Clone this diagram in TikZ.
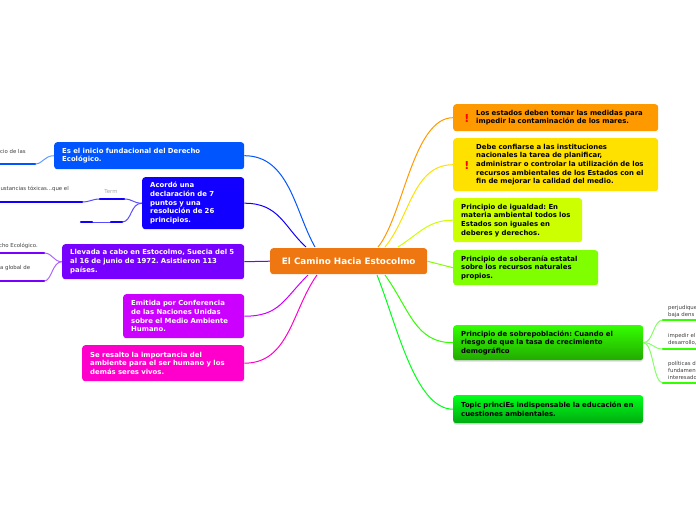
\documentclass[tikz,border=0pt]{standalone}
\usepackage{fontspec}
\setmainfont{DejaVu Sans}
\usetikzlibrary{backgrounds,shadows}
\definecolor{rootc}{HTML}{EE7711}
\definecolor{oranc}{HTML}{FF9900}
\definecolor{yelc}{HTML}{FFE100}
\definecolor{limec}{HTML}{CCFF00}
\definecolor{grnc}{HTML}{80FF00}
\definecolor{brightc}{HTML}{33FF00}
\definecolor{darkc}{HTML}{22AA00}
\definecolor{neonc}{HTML}{00FF19}
\definecolor{dneonc}{HTML}{00AA11}
\definecolor{bluec}{HTML}{0055FF}
\definecolor{navyc}{HTML}{1100FF}
\definecolor{violc}{HTML}{7700FF}
\definecolor{magc}{HTML}{CC00FF}
\definecolor{pinkc}{HTML}{FF00CC}
\frenchspacing
\begin{document}
\begin{tikzpicture}
[x=1pt,y=-1pt]
\tikzstyle{every node}=[font=\fontsize{6.9}{8.7}\selectfont\bfseries]
\tikzstyle{topic}=[anchor=north west,rounded corners=3pt,align=left,inner xsep=8pt,inner ysep=0pt]
\tikzstyle{lefttopic}=[topic,text=white]
\tikzstyle{righttopic}=[topic,text=black]
\tikzstyle{subtext}=[font=\fontsize{5.4}{6.8}\selectfont,text=black!75,align=left,inner sep=0pt]
\tikzstyle{link}=[line width=1pt]
\tikzstyle{subline}=[line width=2.4pt,line cap=round]
\useasboundingbox (0,0) rectangle (696,520);
\clip (0,0) rectangle (696,520);
\node[anchor=north west,fill=rootc,rounded corners=3pt,text=white,minimum width=157pt,minimum height=26pt,inner sep=0pt,font=\fontsize{8.8}{10}\selectfont\bfseries] (root) at (270,248) {El Camino Hacia Estocolmo};
\node[righttopic,fill=oranc,text width=189pt,minimum height=27pt] (mares) at (453,104) {\hspace*{15pt}Los estados deben tomar las medidas para\\\hspace*{15pt}impedir la contaminación de los mares.};
\node[righttopic,fill=yelc,text width=189pt,minimum height=53pt] (medio) at (453,138) {\hspace*{15pt}Debe confiarse a las instituciones\\\hspace*{15pt}nacionales la tarea de planificar,\\\hspace*{15pt}administrar o controlar la utilización de los\\\hspace*{15pt}recursos ambientales de los Estados con el\\\hspace*{15pt}fin de mejorar la calidad del medio.};
\node[righttopic,fill=limec,text width=113pt,minimum height=44pt] (igual) at (453,198) {Principio de igualdad: En\\materia ambiental todos los\\Estados son iguales en\\deberes y derechos.};
\node[righttopic,fill=grnc,text width=129pt,minimum height=35pt] (sober) at (453,250) {Principio de soberanía estatal\\sobre los recursos naturales\\propios.};
\node[righttopic,top color=brightc,bottom color=darkc,drop shadow={shadow xshift=0pt,shadow yshift=-1.5pt,opacity=.3},text width=174pt,minimum height=35pt] (sobre) at (453,325) {Principio de sobrepoblación: Cuando el\\riesgo de que la tasa de crecimiento\\demográfico};
\node[righttopic,top color=neonc,bottom color=dneonc,drop shadow={shadow xshift=0pt,shadow yshift=-1.5pt,opacity=.3},inner xsep=6pt,text width=178pt,minimum height=28pt] (educa) at (453,395) {\hspace*{2pt}Topic princiEs indispensable la educación en\\\hspace*{2pt}cuestiones ambientales.};
\node[lefttopic,fill=bluec,text width=174pt,minimum height=27pt] (inicio) at (54,142) {Es el inicio fundacional del Derecho\\Ecológico.};
\node[lefttopic,fill=navyc,text width=86pt,minimum height=52pt] (acordo) at (142,177) {Acordó una\\declaración de 7\\puntos y una\\resolución de 26\\principios.};
\node[lefttopic,fill=violc,inner xsep=6pt,text width=170pt,minimum height=35pt] (llevada) at (62,244) {\hspace*{2pt}Llevada a cabo en Estocolmo, Suecia del 5\\\hspace*{2pt}al 16 de junio de 1972. Asistieron 113\\\hspace*{2pt}países.};
\node[lefttopic,fill=magc,text width=105pt,minimum height=44pt] (emitida) at (123,294) {Emitida por Conferencia\\de las Naciones Unidas\\sobre el Medio Ambiente\\Humano.};
\node[lefttopic,fill=pinkc,text width=146pt,minimum height=36pt] (resalto) at (82,345) {Se resalto la importancia del\\ambiente para el ser humano y los\\demás seres vivos.};
\node[text=red,font=\fontsize{11}{11}\selectfont\bfseries,inner sep=0pt] (alertA) at (467,118) {!};
\node[text=red,font=\fontsize{11}{11}\selectfont\bfseries,inner sep=0pt] (alertB) at (467,165) {!};
\node[subtext,anchor=west] (txtA) at (0,151) {cio de las};
\node[subtext,anchor=east] (txtB) at (69,189) {ustancias tóxicas...que el};
\node[subtext,anchor=east] (txtC) at (38,246) {cho Ecológico.};
\node[subtext,anchor=west] (txtD) at (0,268) {a global de};
\node[subtext,anchor=north west] (txtE) at (668,305) {perjudique\\baja dens};
\node[subtext,anchor=north west] (txtF) at (668,333) {impedir el\\desarrollo,};
\node[subtext,anchor=north west] (txtG) at (668,361) {políticas d\\fundamen\\interesado};
\node[font=\fontsize{5.4}{6}\selectfont,text=black!35,inner sep=0pt] (term) at (111,192) {Term};
\coordinate (rootB) at (315,247);
\coordinate (rootN) at (306,247);
\coordinate (rootO) at (378,247);
\coordinate (rootY) at (385,247);
\coordinate (rootL) at (398,247);
\coordinate (rootM) at (308,275);
\coordinate (rootP) at (317,275);
\coordinate (rootG) at (377,275);
\coordinate (rootE) at (385,275);
\coordinate (subAa) at (0,164); \coordinate (subAb) at (35,164);
\coordinate (subBa) at (0,202); \coordinate (subBb) at (82,202);
\coordinate (subCa) at (100,199); \coordinate (subCb) at (124,199);
\coordinate (subDa) at (111,222); \coordinate (subDb) at (122,222);
\coordinate (subEa) at (81,222); \coordinate (subEb) at (92,222);
\coordinate (subFa) at (0,253); \coordinate (subFb) at (44,253);
\coordinate (subGa) at (0,281); \coordinate (subGb) at (44,281);
\coordinate (subHa) at (663,320); \coordinate (subHb) at (696,320);
\coordinate (subIa) at (663,349); \coordinate (subIb) at (696,349);
\coordinate (subJa) at (663,383); \coordinate (subJb) at (696,383);
\draw[subline,bluec] (subAa) -- (subAb);
\draw[subline,navyc] (subBa) -- (subBb);
\draw[subline,navyc] (subCa) -- (subCb);
\draw[subline,navyc] (subDa) -- (subDb);
\draw[subline,navyc] (subEa) -- (subEb);
\draw[subline,violc] (subFa) -- (subFb);
\draw[subline,violc] (subGa) -- (subGb);
\draw[subline,brightc] (subHa) -- (subHb);
\draw[subline,brightc] (subIa) -- (subIb);
\draw[subline,brightc] (subJa) -- (subJb);
\begin{scope}[on background layer]
\draw[link,bluec] (inicio.east) .. controls +(45,0) and +(-20,-35) .. (rootB);
\draw[link,navyc] (acordo.east) .. controls +(35,0) and +(-22,-20) .. (rootN);
\draw[link,violc] (llevada.east) -- (root.west);
\draw[link,magc] (emitida.east) .. controls +(35,0) and +(-25,25) .. (rootM);
\draw[link,pinkc] (resalto.east) .. controls +(45,0) and +(-25,35) .. (rootP);
\draw[link,oranc] (mares.west) .. controls +(-40,0) and +(25,-30) .. (rootO);
\draw[link,yelc] (medio.west) .. controls +(-40,0) and +(25,-30) .. (rootY);
\draw[link,limec] (igual.west) .. controls +(-25,0) and +(22,-14) .. (rootL);
\draw[link,grnc] (sober.west) -- (root.east);
\draw[link,brightc] (sobre.west) .. controls +(-38,0) and +(25,35) .. (rootE);
\draw[link,neonc] (educa.west) .. controls +(-38,0) and +(20,50) .. (rootG);
\draw[link,bluec!60] (inicio.west) .. controls +(-10,0) and +(8,0) .. (subAb);
\draw[link,navyc!70] (acordo.west) .. controls +(-9,0) and +(9,0) .. (subCb);
\draw[link,navyc!70] (acordo.west) .. controls +(-12,0) and +(10,0) .. (subDb);
\draw[link,navyc!70] (subCa) .. controls +(-8,0) and +(8,0) .. (subBb);
\draw[link,navyc!70] (subDa) -- (subEb);
\draw[link,violc!60] (llevada.west) .. controls +(-9,0) and +(9,0) .. (subFb);
\draw[link,violc!60] (llevada.west) .. controls +(-10,0) and +(8,0) .. (subGb);
\draw[link,brightc!60] (sobre.east) .. controls +(10,0) and +(-10,0) .. (subHa);
\draw[link,brightc!60] (sobre.east) .. controls +(10,0) and +(-10,0) .. (subIa);
\draw[link,brightc!60] (sobre.east) .. controls +(10,0) and +(-10,0) .. (subJa);
\end{scope}
\end{tikzpicture}
\end{document}
